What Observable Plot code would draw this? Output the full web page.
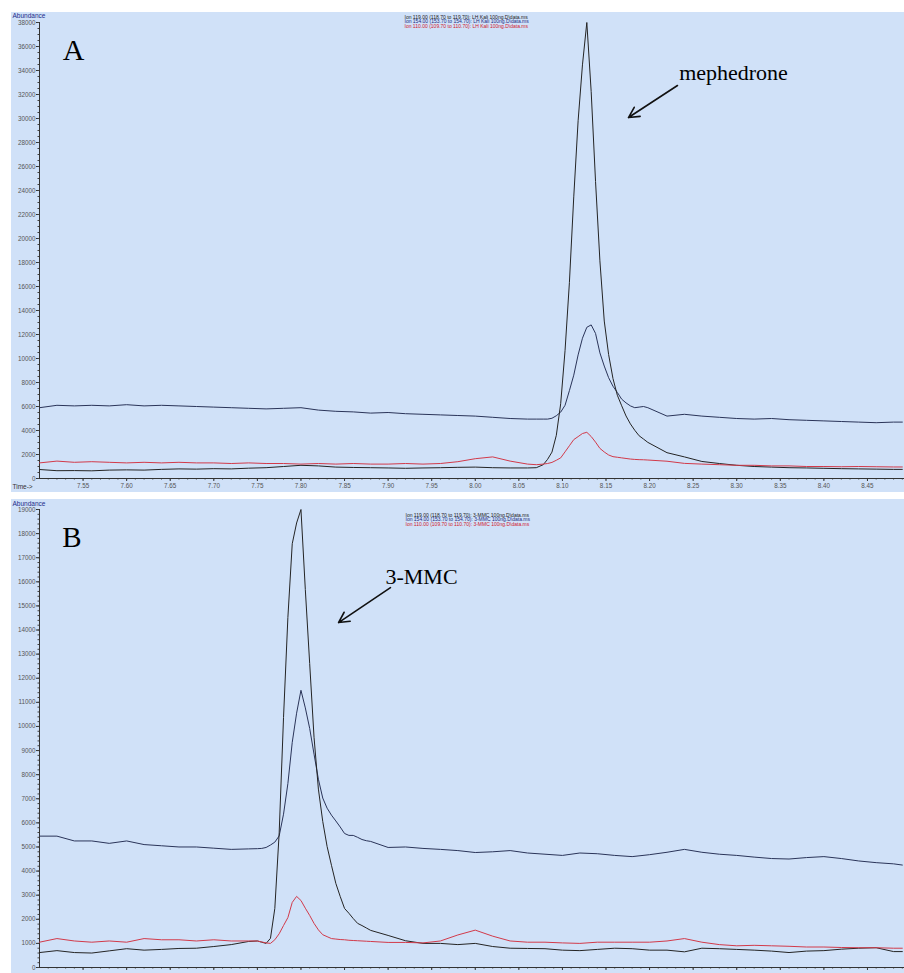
<!DOCTYPE html>
<html>
<head>
<meta charset="utf-8">
<script src="https://cdn.jsdelivr.net/npm/d3@7"></script>
<script src="https://cdn.jsdelivr.net/npm/@observablehq/plot@0.6"></script>
<style>
  html, body { margin: 0; padding: 0; background: #ffffff; }
  #page { position: relative; width: 904px; height: 973px; overflow: hidden; }
  .panel { position: absolute; left: 11px; }
  #panelA { top: 12px; }
  #panelB { top: 499px; }
  .panel svg { display: block; }
</style>
</head>
<body>
<div id="page">
  <div id="panelA" class="panel"></div>
  <div id="panelB" class="panel"></div>
</div>
<script>
// ---- Panel A: LH Kali 100 ng, extracted ion chromatograms (time in min) ----
const timesA = [
  7.50, 7.52, 7.54, 7.56, 7.58, 7.60, 7.62, 7.64, 7.66, 7.68,
  7.70, 7.72, 7.74, 7.76, 7.78, 7.80, 7.82, 7.84, 7.86, 7.88,
  7.90, 7.92, 7.94, 7.96, 7.98, 8.00, 8.02, 8.04, 8.06, 8.07, 8.078,
  8.083, 8.088, 8.093, 8.098, 8.103, 8.108, 8.113, 8.118, 8.123, 8.128,
  8.133, 8.138, 8.143, 8.148, 8.153, 8.158, 8.163, 8.168, 8.173, 8.178,
  8.183, 8.188, 8.193, 8.198,
  8.22, 8.24, 8.26, 8.28, 8.30, 8.32, 8.34, 8.36, 8.38, 8.40, 8.42, 8.44, 8.46, 8.48, 8.49
];
const ion119A = [
  750, 650, 660, 640, 700, 720, 700, 760, 800, 780,
  820, 800, 860, 900, 1000, 1100, 1050, 950, 920, 900,
  880, 850, 880, 900, 930, 950, 900, 880, 880, 900, 1150,
  1600, 2200, 3600, 6230, 10650, 16320, 23470, 29810, 34470, 38000,
  32240, 24750, 18140, 13120, 10330, 8330, 6940, 6060, 5210, 4550,
  4020, 3560, 3290, 3010,
  2150, 1800, 1420, 1250, 1100, 1000, 950, 900, 880, 850, 820, 800, 780, 760, 760
];
const ion154A = [
  5900, 6100, 6050, 6100, 6050, 6150, 6050, 6100, 6050, 6000,
  5950, 5900, 5850, 5800, 5850, 5900, 5700, 5600, 5550, 5450,
  5500, 5400, 5350, 5300, 5250, 5200, 5100, 5000, 4950, 4950, 4950,
  4950, 5020, 5230, 5530, 6100, 7320, 8610, 10300, 11690, 12600,
  12800, 12090, 10470, 9370, 8400, 7690, 7170, 6610, 6300, 6050,
  5900, 5950, 6000, 5900,
  5200, 5350, 5200, 5100, 5000, 4950, 5000, 4900, 4850, 4800, 4750, 4700, 4650, 4700, 4700
];
const ion110A = [
  1300, 1450, 1350, 1400, 1350, 1300, 1350, 1300, 1350, 1300,
  1300, 1250, 1300, 1250, 1250, 1200, 1250, 1200, 1250, 1200,
  1200, 1250, 1200, 1250, 1400, 1650, 1800, 1450, 1200, 1150, 1200,
  1250, 1340, 1520, 1720, 2220, 2730, 3240, 3490, 3750, 3850,
  3500, 3030, 2510, 2210, 1960, 1820, 1770, 1720, 1670, 1620,
  1590, 1570, 1560, 1540,
  1440, 1260, 1200, 1150, 1100, 1100, 1050, 1050, 1000, 1000, 980, 1000, 980, 960, 960
];

// ---- Panel B: 3-MMC 100 ng ----
const timesB = [
  7.50, 7.52, 7.54, 7.56, 7.58, 7.60, 7.62, 7.64, 7.66, 7.68, 7.70, 7.72, 7.74,
  7.75, 7.755, 7.76, 7.765, 7.77, 7.775, 7.78, 7.785, 7.79, 7.795,
  7.80, 7.805, 7.81, 7.815, 7.82, 7.825, 7.83, 7.835, 7.84, 7.845,
  7.85, 7.855, 7.86, 7.865, 7.87, 7.875, 7.88,
  7.90, 7.92, 7.94, 7.96, 7.98, 8.00, 8.02, 8.04, 8.06, 8.08,
  8.10, 8.12, 8.14, 8.16, 8.18, 8.20, 8.22, 8.24, 8.26, 8.28,
  8.30, 8.32, 8.34, 8.36, 8.38, 8.40, 8.42, 8.44, 8.46, 8.48, 8.49
];
const ion119B = [
  620, 700, 620, 600, 690, 780, 720, 750, 790, 800, 870, 950, 1080,
  1100, 1050, 1000, 1210, 2450, 5590, 10370, 14520, 17580, 18440,
  19000, 15680, 12610, 9550, 7400, 6060, 5020, 4240, 3490, 2950,
  2450, 2250, 2030, 1830, 1740, 1640, 1540,
  1330, 1110, 1000, 1000, 950, 1000, 870, 800, 790, 780,
  720, 700, 750, 800, 780, 720, 720, 650, 800, 780,
  750, 720, 680, 620, 680, 700, 760, 800, 820, 660, 660
];
const ion154B = [
  5450, 5450, 5250, 5250, 5150, 5250, 5100, 5050, 5000, 5000, 4950, 4900, 4920,
  4930, 4940, 4980, 5080, 5200, 5460, 6360, 7630, 9340, 10550,
  11500, 10770, 9920, 8850, 7810, 7030, 6610, 6320, 6080, 5830,
  5560, 5480, 5480, 5400, 5310, 5260, 5230,
  4980, 5000, 4940, 4900, 4850, 4770, 4800, 4850, 4750, 4700,
  4650, 4750, 4720, 4650, 4600, 4680, 4780, 4900, 4780, 4700,
  4650, 4580, 4520, 4500, 4560, 4600, 4520, 4420, 4350, 4300, 4250
];
const ion110B = [
  1050, 1200, 1100, 1050, 1100, 1050, 1200, 1150, 1150, 1100, 1150, 1100, 1100,
  1100, 1060, 1020, 1000, 1150, 1400, 1740, 2070, 2700, 2950,
  2780, 2460, 2160, 1830, 1560, 1360, 1280, 1200, 1180, 1160,
  1150, 1130, 1120, 1110, 1100, 1090, 1080,
  1040, 1040, 1020, 1100, 1350, 1550, 1300, 1100, 1050, 1050,
  1020, 1000, 1050, 1050, 1050, 1050, 1100, 1200, 1050, 950,
  900, 920, 900, 880, 850, 850, 830, 820, 820, 800, 800
];

// ---- Header lines and axis ticks ----
const legendA = [
  "Ion 119.00 (118.70 to 119.70): LH Kali 100ng.D\\data.ms",
  "Ion 154.00 (153.70 to 154.70): LH Kali 100ng.D\\data.ms",
  "Ion 110.00 (109.70 to 110.70): LH Kali 100ng.D\\data.ms"
];
const legendB = [
  "Ion 119.00 (118.70 to 119.70): 3-MMC 100ng.D\\data.ms",
  "Ion 154.00 (153.70 to 154.70): 3-MMC 100ng.D\\data.ms",
  "Ion 110.00 (109.70 to 110.70): 3-MMC 100ng.D\\data.ms"
];
const xMajorTicks = [7.55, 7.60, 7.65, 7.70, 7.75, 7.80, 7.85, 7.90, 7.95, 8.00,
                     8.05, 8.10, 8.15, 8.20, 8.25, 8.30, 8.35, 8.40, 8.45];

const BG = "#d0e1f8";
const traceColors = ["#2a3459", "#242424", "#d23a4a"];
const legendColors = ["#1a1a1a", "#1c2a7e", "#d0202c"];
const X_DOMAIN = [7.50, 8.4925];
const W = 893, ML = 28;
const sans = "Liberation Sans, Arial, sans-serif";
const serif = "Liberation Serif, Times New Roman, serif";

const xMinorTicks = d3.range(751, 850).map(d => d / 100);
const blank = () => "";

function traces(times, series) {
  return series.map((values, i) =>
    Plot.line(values, {x: times, y: values, stroke: traceColors[i], strokeWidth: 1, clip: true})
  );
}

function headerLines(lines, dx, dy0) {
  return lines.map((s, i) =>
    Plot.text([s], {
      frameAnchor: "top-left", dx, dy: dy0 + i * 4.65,
      textAnchor: "start", lineAnchor: "middle",
      fontSize: 5, fill: legendColors[i], fontFamily: sans
    })
  );
}

function axes({yTicks, yMinor, xLabels}) {
  return [
    Plot.axisY({ticks: yTicks, tickSize: 3, tickPadding: 1, fontSize: 6.3, fontFamily: sans,
                fill: "#555", stroke: "#333", label: null, tickFormat: d3.format("d")}),
    Plot.axisY({ticks: yMinor, tickSize: 1.5, tickFormat: blank, stroke: "#444", label: null}),
    Plot.axisX({ticks: xMajorTicks, tickSize: 3, tickPadding: 2, fontSize: 6.3, fontFamily: sans,
                fill: "#555", stroke: "#333", label: null,
                tickFormat: xLabels ? d3.format(".2f") : blank}),
    Plot.axisX({ticks: xMinorTicks, tickSize: 1.5, tickFormat: blank, stroke: "#444", label: null}),
    Plot.ruleX([X_DOMAIN[0]], {stroke: "#333", strokeWidth: 1}),
    Plot.ruleY([0], {stroke: "#333", strokeWidth: 1})
  ];
}

// Panel A
const plotA = Plot.plot({
  width: W, height: 480,
  marginLeft: ML, marginRight: 0, marginTop: 10, marginBottom: 14,
  style: {background: BG, fontFamily: sans, overflow: "visible"},
  x: {domain: X_DOMAIN},
  y: {domain: [0, 38000]},
  marks: [
    ...axes({yTicks: d3.range(0, 38001, 2000), yMinor: d3.range(0, 38001, 500), xLabels: true}),
    ...traces(timesA, [ion154A, ion119A, ion110A]),
    Plot.text(["Abundance"], {frameAnchor: "top-left", dx: -27, dy: -6.3, textAnchor: "start",
      lineAnchor: "middle", fontSize: 6.5, fill: "#1b2c8a"}),
    Plot.text(["Time->"], {frameAnchor: "bottom-left", dx: -27, dy: 8, textAnchor: "start",
      lineAnchor: "middle", fontSize: 6.5, fill: "#333"}),
    ...headerLines(legendA, 365, -5.3),
    Plot.text(["A"], {x: 7.539, y: 35700, fontSize: 30, fontFamily: serif, fill: "#000"}),
    Plot.text(["mephedrone"], {x: 8.2963, y: 33800, fontSize: 22, fontFamily: serif, fill: "#000"}),
    Plot.arrow([0], {x1: 8.232, y1: 32750, x2: 8.1758, y2: 30080, stroke: "#111",
      strokeWidth: 1.6, headLength: 11, headAngle: 55})
  ]
});

// Panel B
const plotB = Plot.plot({
  width: W, height: 474,
  marginLeft: ML, marginRight: 0, marginTop: 10, marginBottom: 6,
  style: {background: BG, fontFamily: sans, overflow: "visible"},
  x: {domain: X_DOMAIN},
  y: {domain: [0, 19000]},
  marks: [
    ...axes({yTicks: d3.range(0, 19001, 1000), yMinor: d3.range(0, 19001, 200), xLabels: false}),
    ...traces(timesB, [ion154B, ion119B, ion110B]),
    Plot.text(["Abundance"], {frameAnchor: "top-left", dx: -27, dy: -5.3, textAnchor: "start",
      lineAnchor: "middle", fontSize: 6.5, fill: "#1b2c8a"}),
    ...headerLines(legendB, 366, 5.7),
    Plot.text(["B"], {x: 7.5373, y: 17810, fontSize: 29, fontFamily: serif, fill: "#000"}),
    Plot.text(["3-MMC"], {x: 7.9383, y: 16220, fontSize: 22, fontFamily: serif, fill: "#000"}),
    Plot.arrow([0], {x1: 7.9027, y1: 15760, x2: 7.8431, y2: 14310, stroke: "#111",
      strokeWidth: 1.6, headLength: 11, headAngle: 55})
  ]
});

document.getElementById("panelA").appendChild(plotA);
document.getElementById("panelB").appendChild(plotB);
</script>
</body>
</html>
